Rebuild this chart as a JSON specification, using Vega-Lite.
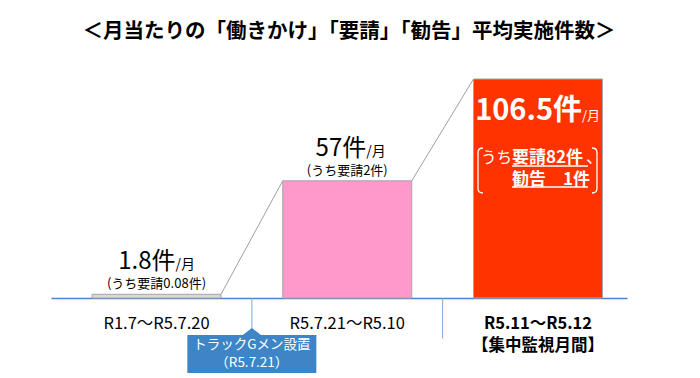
{
  "$schema": "https://vega.github.io/schema/vega-lite/v6.json",
  "width": 576,
  "height": 248,
  "autosize": "none",
  "padding": {"left": 51, "right": 73, "top": 50, "bottom": 80},
  "background": "white",
  "title": {
    "text": "＜月当たりの「働きかけ」「要請」「勧告」平均実施件数＞",
    "font": "Noto Sans CJK JP",
    "fontSize": 20.5,
    "fontWeight": "bold",
    "color": "#000000",
    "anchor": "middle",
    "baseline": "alphabetic",
    "offset": -8,
    "dx": 10
  },
  "config": {"view": {"stroke": null}, "font": "Noto Sans CJK JP"},
  "data": {
    "values": [
      {"period": "R1.7～R5.7.20", "count": 1.8, "main": "1.8件", "note": "(うち要請0.08件)"},
      {"period": "R5.7.21～R5.10", "count": 57, "main": "57件", "note": "(うち要請2件)"},
      {"period": "R5.11～R5.12", "count": 106.5, "main": "106.5件", "note": ""}
    ]
  },
  "encoding": {
    "x": {
      "field": "period",
      "type": "nominal",
      "title": null,
      "scale": {
        "domain": ["R1.7～R5.7.20", "R5.7.21～R5.10", "R5.11～R5.12"],
        "paddingInner": 0.3237,
        "paddingOuter": 0.1717,
        "align": 0.626
      },
      "axis": {
        "title": null,
        "grid": false,
        "domainColor": "#4A86C8",
        "domainWidth": 1.5,
        "ticks": false,
        "labelAngle": 0,
        "labelFont": "Noto Sans CJK JP",
        "labelFontSize": 16.5,
        "labelColor": "#000000",
        "labelBaseline": "top",
        "labelPadding": 17,
        "labelLineHeight": 22,
        "labelOverlap": false,
        "labelLimit": 0,
        "labelExpr": "datum.label == 'R5.11～R5.12' ? ['R5.11～R5.12', '【集中監視月間】'] : datum.label",
        "labelFontWeight": {"condition": {"test": "datum.value == 'R5.11～R5.12'", "value": "bold"}, "value": "normal"}
      }
    },
    "y": {
      "field": "count",
      "type": "quantitative",
      "scale": {"domain": [0, 120.6], "nice": false, "zero": false},
      "axis": null
    }
  },
  "layer": [
    {
      "transform": [{"filter": "datum.count > 10"}],
      "mark": {"type": "rule", "color": "#7EA9DA", "strokeWidth": 1},
      "encoding": {
        "x": {"field": "period", "type": "nominal", "bandPosition": -0.2393, "title": null},
        "y": {"datum": 0, "type": "quantitative"},
        "y2": {"datum": -19.7}
      }
    },
    {
      "mark": {"type": "bar", "stroke": "#A6A6A6", "strokeWidth": 1},
      "encoding": {
        "color": {
          "field": "period",
          "type": "nominal",
          "scale": {"domain": ["R1.7～R5.7.20", "R5.7.21～R5.10", "R5.11～R5.12"], "range": ["#D9D9D9", "#FF99CC", "#FF3300"]},
          "legend": null
        }
      }
    },
    {
      "data": {
        "values": [
          {"from": "R1.7～R5.7.20", "to": "R5.7.21～R5.10", "fromCount": 1.8, "toCount": 57},
          {"from": "R5.7.21～R5.10", "to": "R5.11～R5.12", "fromCount": 57, "toCount": 106.5}
        ]
      },
      "mark": {"type": "rule", "color": "#A0A0A0", "strokeWidth": 1},
      "encoding": {
        "x": {"field": "from", "type": "nominal", "bandPosition": 1, "title": null},
        "x2": {"field": "to", "bandPosition": 0},
        "y": {"field": "fromCount", "type": "quantitative"},
        "y2": {"field": "toCount"}
      }
    },
    {
      "transform": [{"filter": "datum.count < 100"}],
      "mark": {"type": "text", "align": "right", "baseline": "alphabetic", "dx": 19, "dy": -25, "fontSize": 24, "color": "#000000"},
      "encoding": {"text": {"field": "main"}}
    },
    {
      "transform": [{"filter": "datum.count < 100"}],
      "mark": {"type": "text", "align": "left", "baseline": "alphabetic", "dx": 19, "dy": -25, "fontSize": 14, "color": "#000000", "text": "/月"}
    },
    {
      "transform": [{"filter": "datum.count < 100"}],
      "mark": {"type": "text", "align": "center", "baseline": "middle", "dy": -10, "fontSize": 13, "color": "#000000"},
      "encoding": {"text": {"field": "note"}}
    },
    {
      "transform": [{"filter": "datum.count > 100"}],
      "mark": {"type": "text", "align": "right", "baseline": "alphabetic", "dx": 44, "dy": 41, "fontSize": 29, "fontWeight": "bold", "color": "#FFFFFF"},
      "encoding": {"text": {"field": "main"}}
    },
    {
      "transform": [{"filter": "datum.count > 100"}],
      "mark": {"type": "text", "align": "left", "baseline": "alphabetic", "dx": 44, "dy": 41, "fontSize": 13, "color": "#FFFFFF", "text": "/月"}
    },
    {
      "transform": [{"filter": "datum.count > 100"}],
      "mark": {"type": "text", "align": "right", "baseline": "middle", "dx": -26, "dy": 79, "fontSize": 15.5, "color": "#FFFFFF", "text": "うち"}
    },
    {
      "transform": [{"filter": "datum.count > 100"}],
      "mark": {"type": "text", "align": "left", "baseline": "middle", "dx": -26, "dy": 79, "fontSize": 17, "fontWeight": "bold", "color": "#FFFFFF", "text": "要請82件"}
    },
    {
      "transform": [{"filter": "datum.count > 100"}],
      "mark": {"type": "text", "align": "left", "baseline": "middle", "dx": 48, "dy": 79, "fontSize": 17, "color": "#FFFFFF", "text": "、"}
    },
    {
      "transform": [{"filter": "datum.count > 100"}],
      "mark": {"type": "text", "align": "left", "baseline": "middle", "dx": -26, "dy": 101, "fontSize": 17, "fontWeight": "bold", "color": "#FFFFFF", "text": "勧告　1件"}
    },
    {
      "transform": [{"filter": "datum.count > 100"}],
      "mark": {
        "type": "point",
        "shape": "M-0.917,-0.375 Q-1,-0.375 -1,-0.3 L-1,0.3 Q-1,0.375 -0.917,0.375 M0.9,-0.375 Q0.983,-0.375 0.983,-0.3 L0.983,0.3 Q0.983,0.375 0.9,0.375 M-0.433,-0.075 L0.833,-0.075 M-0.433,0.275 L0.833,0.275",
        "size": 14400,
        "filled": false,
        "color": "#FFFFFF",
        "strokeWidth": 1.3,
        "opacity": 1,
        "yOffset": 91.5
      }
    },
    {
      "transform": [{"filter": "datum.period == 'R1.7～R5.7.20'"}],
      "mark": {
        "type": "point",
        "shape": "M-1,-0.2946 L-0.14,-0.2946 L0,-0.403 L0.14,-0.2946 L1,-0.2946 L1,0.2946 L-1,0.2946 Z",
        "size": 16641,
        "filled": true,
        "color": "#3D85C6",
        "strokeWidth": 0,
        "opacity": 1
      },
      "encoding": {
        "x": {"field": "period", "type": "nominal", "bandPosition": 1.239, "title": null},
        "y": {"datum": -27.2, "type": "quantitative"}
      }
    },
    {
      "transform": [{"filter": "datum.period == 'R1.7～R5.7.20'"}],
      "mark": {
        "type": "text",
        "align": "center",
        "baseline": "middle",
        "dy": -9,
        "fontSize": 13.5,
        "lineHeight": 18,
        "color": "#FFFFFF",
        "text": ["トラックGメン設置", "（R5.7.21）"]
      },
      "encoding": {
        "x": {"field": "period", "type": "nominal", "bandPosition": 1.239, "title": null},
        "y": {"datum": -27.2, "type": "quantitative"}
      }
    }
  ]
}
